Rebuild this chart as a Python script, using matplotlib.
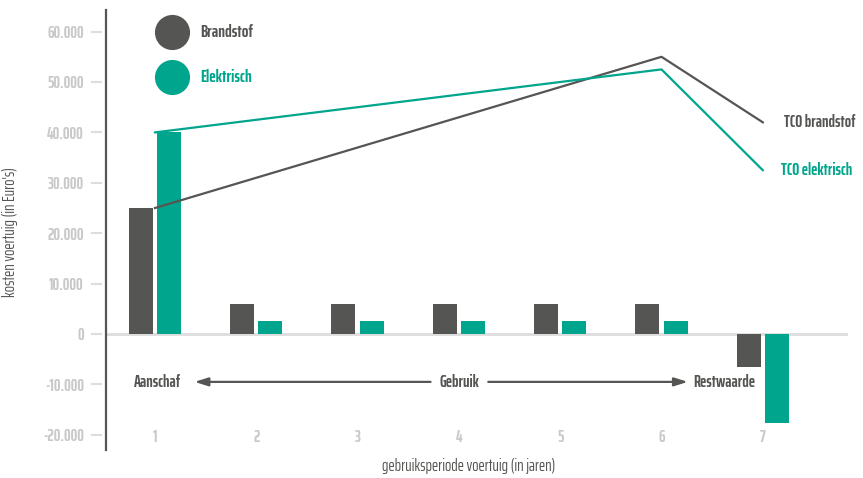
import matplotlib
matplotlib.use("Agg")
import matplotlib.pyplot as plt
import matplotlib.transforms as mtransforms
from matplotlib import font_manager

# Years of use and yearly costs per vehicle type (in euro)
jaren = [1, 2, 3, 4, 5, 6, 7]
kosten_brandstof = [25000, 6000, 6000, 6000, 6000, 6000, -6500]
kosten_elektrisch = [40000, 2500, 2500, 2500, 2500, 2500, -17600]

# Total cost of ownership lines
tco_jaren = [1, 6, 7]
tco_brandstof = [25000, 55000, 42000]
tco_elektrisch = [40000, 52500, 32500]

y_ticks = [60000, 50000, 40000, 30000, 20000, 10000, 0, -10000, -20000]
y_labels = ["60.000", "50.000", "40.000", "30.000", "20.000", "10.000", "0",
            "-10.000", "-20.000"]

DARK = "#555553"
TEAL = "#00a58d"
LIGHT = "#c9c9c9"

# pick a condensed sans if one is around
names = {f.name for f in font_manager.fontManager.ttflist}
candidates = ["Saira ExtraCondensed", "Sofia Sans Extra Condensed",
              "Barlow Condensed", "Roboto Condensed"]
family = [c for c in candidates if c in names][:1] + ["DejaVu Sans"]
plt.rcParams["font.family"] = family
plt.rcParams["font.weight"] = "bold"

FS = 12

fig = plt.figure(figsize=(8.63, 4.78), dpi=100)
ax = fig.add_axes([106 / 863, 28 / 478, 742 / 863, 440 / 478])

x0 = 1 - 49 / 101.3
ax.set_xlim(x0, x0 + 742 / 101.3)
ax.set_ylim(-116 / 50.4 * 10000, 324 / 50.4 * 10000)

w = 0.237
off = 0.14
ax.bar([x - off for x in jaren], kosten_brandstof, width=w, color=DARK, zorder=3)
ax.bar([x + off for x in jaren], kosten_elektrisch, width=w, color=TEAL, zorder=3)
ax.axhline(0, color="#dddddd", lw=2, zorder=2)

ax.plot(tco_jaren, tco_brandstof, color=DARK, lw=1.6, zorder=4)
ax.plot(tco_jaren, tco_elektrisch, color=TEAL, lw=1.6, zorder=4)
ax.text(tco_jaren[-1] + 0.21, tco_brandstof[-1], "TCO brandstof", color=DARK,
        fontsize=FS, va="center", ha="left")
ax.text(tco_jaren[-1] + 0.18, tco_elektrisch[-1], "TCO elektrisch", color=TEAL,
        fontsize=FS, va="center", ha="left")

# axes styling
for s in ["top", "right", "bottom"]:
    ax.spines[s].set_visible(False)
ax.spines["left"].set_color(DARK)
ax.spines["left"].set_linewidth(1.6)

ax.set_yticks(y_ticks)
ax.set_yticklabels(y_labels, color=LIGHT, fontsize=FS)
ax.tick_params(axis="y", length=0, pad=16)
trans = mtransforms.blended_transform_factory(ax.transAxes, ax.transData)
for v in y_ticks:
    ax.plot([-14 / 742, -5 / 742], [v, v], color="#dddddd", lw=1.5,
            transform=trans, clip_on=False)

ax.set_xticks(jaren)
ax.set_xticklabels([str(j) for j in jaren], color=LIGHT, fontsize=FS)
ax.tick_params(axis="x", length=0, pad=-15)

ax.set_ylabel("kosten voertuig (in Euro's)", color=DARK, fontsize=FS)
ax.yaxis.set_label_coords(-88 / 742, 0.495)
ax.set_xlabel("gebruiksperiode voertuig (in jaren)", color=DARK, fontsize=FS)
ax.xaxis.set_label_coords(0.489, -8 / 440)

# phases along the horizon
y_fase = -9500
ax.text(1.02, y_fase, "Aanschaf", color=DARK, fontsize=FS, ha="center", va="center")
ax.text(4.0, y_fase, "Gebruik", color=DARK, fontsize=FS, ha="center", va="center")
ax.text(6.62, y_fase, "Restwaarde", color=DARK, fontsize=FS, ha="center", va="center")
arrow = dict(arrowstyle="-|>,head_length=0.8,head_width=0.25", color=DARK, lw=1.6,
             shrinkA=0, shrinkB=0)
ax.annotate("", xy=(1.39, y_fase), xytext=(3.72, y_fase), arrowprops=arrow)
ax.annotate("", xy=(6.26, y_fase), xytext=(4.29, y_fase), arrowprops=arrow)

# legend with round markers
ax.scatter([66 / 742], [60000], s=640, color=DARK, marker="o", zorder=5, clip_on=False,
           transform=trans, linewidths=0)
ax.scatter([66 / 742], [51000], s=640, color=TEAL, marker="o", zorder=5, clip_on=False,
           transform=trans, linewidths=0)
ax.text(94 / 742, 60000, "Brandstof", color=DARK, fontsize=FS + 0.5, va="center",
        transform=trans)
ax.text(94 / 742, 51000, "Elektrisch", color=TEAL, fontsize=FS + 0.5, va="center",
        transform=trans)

fig.savefig("out.png", dpi=100)
